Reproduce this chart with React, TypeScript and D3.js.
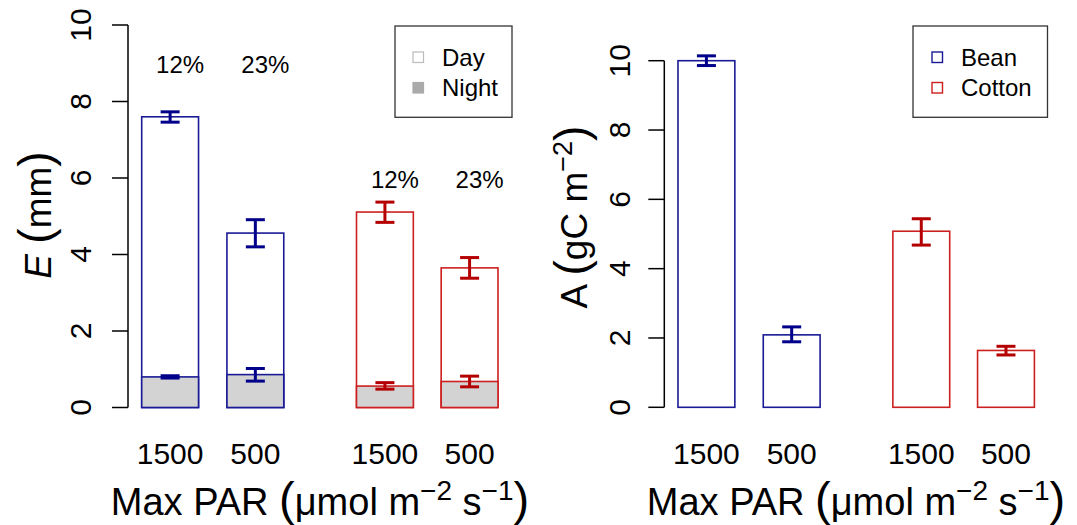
import React from "react";
import * as d3 from "d3";

const crops = ["Bean", "Bean", "Cotton", "Cotton"];
const parLabels = ["1500", "500", "1500", "500"];
const eTotal = [7.6, 4.56, 5.11, 3.65];
const eTotalLo = [7.46, 4.2, 4.84, 3.38];
const eTotalHi = [7.73, 4.91, 5.37, 3.92];
const eNight = [0.8, 0.86, 0.56, 0.68];
const eNightLo = [0.77, 0.69, 0.48, 0.54];
const eNightHi = [0.83, 1.02, 0.65, 0.82];
const nightPct = ["12%", "23%", "12%", "23%"];
const pctLabelY = [8.75, 8.75, 5.74, 5.74];
const aVal = [10.0, 2.09, 5.08, 1.64];
const aLo = [9.86, 1.89, 4.68, 1.51];
const aHi = [10.14, 2.32, 5.44, 1.76];
const yTicks = [0, 2, 4, 6, 8, 10];

const barSlots = [0, 1.5, 3.78, 5.27];
const FONT = "'Liberation Sans', Arial, Helvetica, sans-serif";
const strokeCol: Record<string, string> = { Bean: "#1a1a96", Cotton: "#cc1f1f" };
const errCol: Record<string, string> = { Bean: "#00008b", Cotton: "#b40000" };

function YAxis({ x, y, labelX }: { x: number; y: d3.ScaleLinear<number, number>; labelX: number }) {
  return (
    <g>
      <line x1={x} x2={x} y1={y(0)} y2={y(10)} stroke="#000" strokeWidth={1.5} />
      {yTicks.map((t) => (
        <g key={t}>
          <line x1={x - 16} x2={x} y1={y(t)} y2={y(t)} stroke="#000" strokeWidth={1.5} />
          <text
            transform={`translate(${labelX},${y(t)}) rotate(-90)`}
            textAnchor="middle"
            fontSize={30}
            fontFamily={FONT}
          >
            {t}
          </text>
        </g>
      ))}
    </g>
  );
}

function XTitle({ cx }: { cx: number }) {
  return (
    <text x={cx} y={515} textAnchor="middle" fontSize={38} fontFamily={FONT}>
      Max PAR{" "}
      <tspan fontSize={47}>(</tspan>
      <tspan>μmol m</tspan>
      <tspan fontSize={28} dy={-15}>−2</tspan>
      <tspan dy={15}> s</tspan>
      <tspan fontSize={28} dy={-15}>−1</tspan>
      <tspan fontSize={47} dy={15}>)</tspan>
    </text>
  );
}

function ErrBar({ x, y1, y2, color }: { x: number; y1: number; y2: number; color: string }) {
  return (
    <g stroke={color} strokeWidth={3}>
      <line x1={x} x2={x} y1={y1} y2={y2} />
      <line x1={x - 9.5} x2={x + 9.5} y1={y1} y2={y1} />
      <line x1={x - 9.5} x2={x + 9.5} y1={y2} y2={y2} />
    </g>
  );
}

export default function App() {
  const yL = d3.scaleLinear().domain([0, 10]).range([407.5, 25]);
  const xL = d3.scaleLinear().domain([0, 6.27]).range([141.7, 498]);
  const bwL = xL(1) - xL(0);
  const yR = d3.scaleLinear().domain([0, 10]).range([407.3, 60.7]);
  const xR = d3.scaleLinear().domain([0, 6.27]).range([678, 1034.4]);
  const bwR = xR(1) - xR(0);

  return (
    <svg width={1077} height={525} style={{ display: "block", position: "absolute", left: 0, top: 0, background: "#fff" }}>
      <rect width={1077} height={525} fill="#fff" />
      {/* LEFT PANEL */}
      <YAxis x={128} y={yL} labelX={91} />
      <text transform="translate(51,215) rotate(-90)" textAnchor="middle" fontSize={37} fontFamily={FONT}>
        <tspan fontStyle="italic">E</tspan>
        <tspan> </tspan>
        <tspan fontSize={46}>(</tspan>
        <tspan>mm</tspan>
        <tspan fontSize={46}>)</tspan>
      </text>
      {barSlots.map((s, i) => {
        const x0 = xL(s);
        const cx = x0 + bwL / 2;
        const c = crops[i];
        return (
          <g key={i}>
            <rect x={x0} y={yL(eTotal[i])} width={bwL} height={yL(0) - yL(eTotal[i])} fill="#fff" stroke={strokeCol[c]} strokeWidth={1.6} />
            <rect x={x0} y={yL(eNight[i])} width={bwL} height={yL(0) - yL(eNight[i])} fill="#d3d3d3" stroke={strokeCol[c]} strokeWidth={1.6} />
            <ErrBar x={cx} y1={yL(eTotalHi[i])} y2={yL(eTotalLo[i])} color={errCol[c]} />
            <ErrBar x={cx} y1={yL(eNightHi[i])} y2={yL(eNightLo[i])} color={errCol[c]} />
            <text x={cx + 10} y={yL(pctLabelY[i])} textAnchor="middle" fontSize={24} fontFamily={FONT}>
              {nightPct[i]}
            </text>
            <text x={cx} y={464} textAnchor="middle" fontSize={30} fontFamily={FONT}>
              {parLabels[i]}
            </text>
          </g>
        );
      })}
      <XTitle cx={320} />
      {/* left legend */}
      <rect x={395} y={26} width={117} height={91.3} fill="#fff" stroke="#333" strokeWidth={1.3} />
      <rect x={413} y={52} width={10.5} height={10.5} fill="#fff" stroke="#bbb" strokeWidth={1.2} />
      <rect x={413} y={82.5} width={10.5} height={10.5} fill="#aaa" stroke="#aaa" strokeWidth={1.2} />
      <text x={442} y={65.5} fontSize={24} fontFamily={FONT}>Day</text>
      <text x={442} y={96} fontSize={24} fontFamily={FONT}>Night</text>

      {/* RIGHT PANEL */}
      <YAxis x={664.3} y={yR} labelX={630} />
      <text transform="translate(587,217) rotate(-90)" textAnchor="middle" fontSize={37} fontFamily={FONT}>
        <tspan>A </tspan>
        <tspan fontSize={46}>(</tspan>
        <tspan>gC m</tspan>
        <tspan fontSize={27} dy={-15}>−2</tspan>
        <tspan fontSize={46} dy={15}>)</tspan>
      </text>
      {barSlots.map((s, i) => {
        const x0 = xR(s);
        const cx = x0 + bwR / 2;
        const c = crops[i];
        return (
          <g key={i}>
            <rect x={x0} y={yR(aVal[i])} width={bwR} height={yR(0) - yR(aVal[i])} fill="#fff" stroke={strokeCol[c]} strokeWidth={1.6} />
            <ErrBar x={cx} y1={yR(aHi[i])} y2={yR(aLo[i])} color={errCol[c]} />
            <text x={cx} y={464} textAnchor="middle" fontSize={30} fontFamily={FONT}>
              {parLabels[i]}
            </text>
          </g>
        );
      })}
      <XTitle cx={856} />
      {/* right legend */}
      <rect x={913} y={26} width={134.5} height={91.3} fill="#fff" stroke="#333" strokeWidth={1.3} />
      <rect x={932} y={52} width={10.5} height={10.5} fill="#fff" stroke={strokeCol.Bean} strokeWidth={1.4} />
      <rect x={932} y={82.5} width={10.5} height={10.5} fill="#fff" stroke={strokeCol.Cotton} strokeWidth={1.4} />
      <text x={961} y={65.5} fontSize={24} fontFamily={FONT}>Bean</text>
      <text x={961} y={96} fontSize={24} fontFamily={FONT}>Cotton</text>
    </svg>
  );
}
